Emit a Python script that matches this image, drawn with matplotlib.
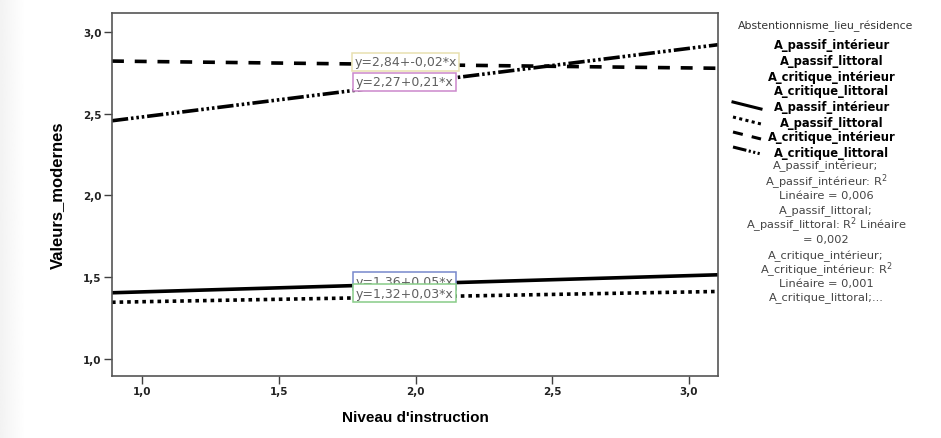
import matplotlib
matplotlib.use("Agg")
import matplotlib.pyplot as plt
import numpy as np
from matplotlib.lines import Line2D

plt.rcParams['font.family'] = ['Liberation Sans', 'DejaVu Sans']

# donnees
x_bornes = [0.89, 3.106]
series = ['A_passif_intérieur', 'A_passif_littoral', 'A_critique_intérieur', 'A_critique_littoral']
y_passif_interieur = [1.405, 1.515]
y_passif_littoral = [1.347, 1.413]
y_critique_interieur = [2.822, 2.778]
y_critique_littoral = [2.457, 2.922]
equations = ['y=1,36+0,05*x', 'y=1,32+0,03*x', 'y=2,84+-0,02*x', 'y=2,27+0,21*x']
r2_lignes = ['A_passif_intérieur;', 'A_passif_intérieur: R$^2$', 'Linéaire = 0,006',
             'A_passif_littoral;', 'A_passif_littoral: R$^2$ Linéaire', '= 0,002',
             'A_critique_intérieur;', 'A_critique_intérieur: R$^2$', 'Linéaire = 0,001',
             'A_critique_littoral;...']
ticks = [1.0, 1.5, 2.0, 2.5, 3.0]
tick_labels = ['1,0', '1,5', '2,0', '2,5', '3,0']

styles = [dict(ls='-'), dict(ls=(0, (1, 1.1))), dict(ls=(0, (3.3, 3.0))),
          dict(ls=(0, (4.5, 0.8, 0.7, 0.8, 0.7, 0.8, 0.7, 0.8)))]
ys = [y_passif_interieur, y_passif_littoral, y_critique_interieur, y_critique_littoral]

fig = plt.figure(figsize=(9.41, 4.39), dpi=100)

# leger degrade gris sur le bord gauche
bg = fig.add_axes([0, 0, 26/941, 1], zorder=-5)
bg.imshow(np.linspace(0.95, 1.0, 26)[None, :], cmap='gray', vmin=0, vmax=1,
          aspect='auto', interpolation='bilinear')
bg.axis('off')

ax = fig.add_axes([112/941, 1-377/439, (718-112)/941, (377-14)/439])

for y, st in zip(ys, styles):
    ax.plot(x_bornes, y, color='black', lw=2.6, solid_capstyle='butt', dash_capstyle='butt', **st)

ax.set_xlim(x_bornes)
ax.set_ylim(0.896, 3.116)
ax.set_xticks(ticks)
ax.set_xticklabels(tick_labels, fontsize=7.5, fontweight='bold', family='DejaVu Sans', color='#222222')
ax.set_yticks(ticks)
ax.set_yticklabels(tick_labels, fontsize=7.5, fontweight='bold', family='DejaVu Sans', color='#222222')
ax.tick_params(length=6, width=1, color='#404040', pad=1.5)
for s in ax.spines.values():
    s.set_color('#555555')
    s.set_linewidth(1.2)
ax.set_xlabel("Niveau d'instruction", fontsize=11, fontweight='bold', labelpad=10)
ax.set_ylabel('Valeurs_modernes', fontsize=12, fontweight='bold', labelpad=13)

# equations encadrees
box_couleurs = ['#7788cc', '#88cc88', '#e8e0b0', '#cc88cc']
box_pos = [(1.78, 1.476), (1.78, 1.403), (1.777, 2.817), (1.78, 2.695)]
for eq, c, (bx, by) in zip(equations, box_couleurs, box_pos):
    ax.text(bx, by, eq, fontsize=9, color='#606060', va='center', ha='left', family='DejaVu Sans',
            bbox=dict(boxstyle='square,pad=0.2', fc='white', ec=c, lw=1.1))

# legende
fig.text(826/941, 1-26/439, 'Abstentionnisme_lieu_résidence', fontsize=7.8,
         ha='center', va='center', color='#333333', family='DejaVu Sans')
legende_y = [45, 62, 78, 92, 108, 123, 138, 153]
for i, yy in enumerate(legende_y):
    nom = series[i % 4]
    fig.text(832/941, 1-yy/439, nom, fontsize=8.3, fontweight='bold',
             ha='center', va='center', family='DejaVu Sans')
    if i >= 4:
        st = styles[i - 4]
        fig.add_artist(Line2D([733/941, 761/941], [1-(yy-5)/439, 1-(yy+2)/439],
                              transform=fig.transFigure, color='black', lw=2.2, **st))
r2_y = [166, 182, 196, 211, 225, 240, 256, 270, 284, 298]
for t, yy in zip(r2_lignes, r2_y):
    fig.text(826/941, 1-yy/439, t, fontsize=8.2, ha='center', va='center', color='#444444',
             family='DejaVu Sans')

fig.savefig('out.png', dpi=100)
